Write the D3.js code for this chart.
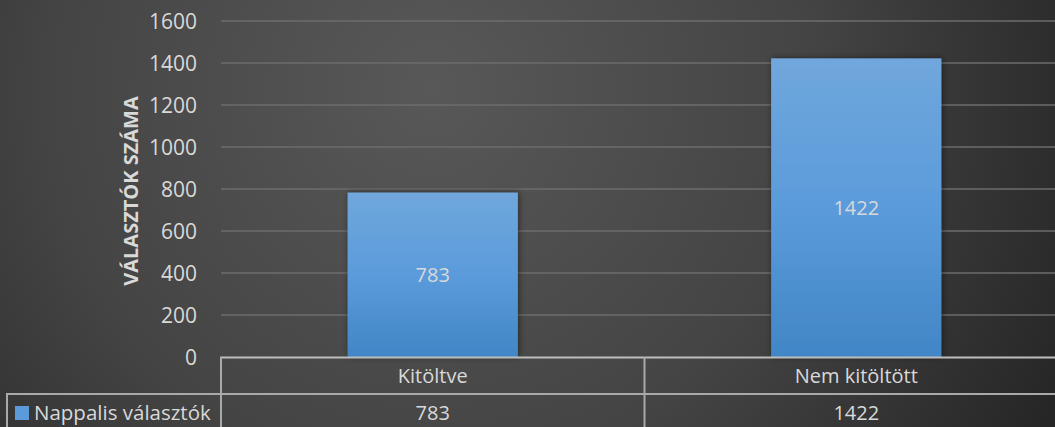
<!DOCTYPE html>
<html><head><meta charset="utf-8">
<script src="https://cdn.jsdelivr.net/npm/d3@7"></script>
<style>body{margin:0;background:#333;}svg{display:block;}</style>
</head><body>
<svg id="c" width="1055" height="427"></svg>
<script>
const categories = ["Kitöltve", "Nem kitöltött"];
const seriesName = "Nappalis választók";
const values = [783, 1422];
const yTicks = [0, 200, 400, 600, 800, 1000, 1200, 1400, 1600];
const yTitle = "VÁLASZTÓK SZÁMA";

const W = 1055, H = 427;
const svg = d3.select("#c");
const defs = svg.append("defs");
const bg = defs.append("radialGradient").attr("id","bg")
  .attr("gradientUnits","userSpaceOnUse").attr("cx",430).attr("cy",90).attr("r",700);
bg.append("stop").attr("offset","0").attr("stop-color","#585858");
bg.append("stop").attr("offset","0.55").attr("stop-color","#444444");
bg.append("stop").attr("offset","1").attr("stop-color","#262626");
const bar = defs.append("linearGradient").attr("id","bar").attr("x1",0).attr("y1",0).attr("x2",0).attr("y2",1);
bar.append("stop").attr("offset","0").attr("stop-color","#70a7dc");
bar.append("stop").attr("offset","0.5").attr("stop-color","#5b9bdb");
bar.append("stop").attr("offset","1").attr("stop-color","#4186c6");
const sh = defs.append("filter").attr("id","sh").attr("x","-20%").attr("y","-20%").attr("width","140%").attr("height","140%");
sh.append("feGaussianBlur").attr("in","SourceAlpha").attr("stdDeviation",3);
sh.append("feOffset").attr("dx",1).attr("dy",0).attr("result","b");
sh.append("feComponentTransfer").append("feFuncA").attr("type","linear").attr("slope",0.5);
const m = sh.append("feMerge"); m.append("feMergeNode"); m.append("feMergeNode").attr("in","SourceGraphic");

svg.append("rect").attr("width",W).attr("height",H).attr("fill","url(#bg)");

const font = "'Open Sans', sans-serif";
const txt = "#d9d9d9";
const y = d3.scaleLinear().domain([0,1600]).range([357,21]);
const x = d3.scaleBand().domain(categories).range([221,1068]).paddingInner(0).paddingOuter(0);
const bw = x.bandwidth()*0.402;

// gridlines
svg.append("g").selectAll("line").data(yTicks.filter(d=>d>0)).join("line")
  .attr("x1",221).attr("x2",W).attr("y1",d=>y(d)).attr("y2",d=>y(d))
  .attr("stroke","#6c6c6c").attr("stroke-width",1.5);

// y axis tick labels
const ya = svg.append("g").attr("transform","translate(197,0)")
  .call(d3.axisLeft(y).tickValues(yTicks).tickSize(0).tickPadding(0).tickFormat(d3.format("d")));
ya.select(".domain").remove();
ya.selectAll("text").attr("fill",txt).attr("font-family",font).attr("font-size",21).attr("dy","0.35em");

svg.append("text").attr("transform","translate(138,191) rotate(-90)")
  .attr("text-anchor","middle").attr("fill",txt).attr("font-family",font)
  .attr("font-weight","bold").attr("font-size",20).text(yTitle);

// bars
svg.append("g").selectAll("rect").data(values).join("rect")
  .attr("x",(d,i)=>x(categories[i])+x.bandwidth()/2-bw/2)
  .attr("width",bw).attr("y",d=>y(d)).attr("height",d=>y(0)-y(d))
  .attr("fill","url(#bar)").attr("filter","url(#sh)");
svg.append("g").selectAll("text").data(values).join("text")
  .attr("x",(d,i)=>x(categories[i])+x.bandwidth()/2)
  .attr("y",d=>(y(d)+y(0))/2).attr("dy","0.35em").attr("text-anchor","middle")
  .attr("fill",txt).attr("font-family",font).attr("font-size",20).text(d=>d);

// data table
const lc = "#a9a9a9";
const g = svg.append("g").attr("stroke",lc).attr("stroke-width",2).attr("fill","none");
g.append("line").attr("x1",220).attr("x2",W).attr("y1",357.5).attr("y2",357.5).attr("stroke","#bdbdbd");
g.append("line").attr("x1",6).attr("x2",W).attr("y1",394).attr("y2",394);
g.append("line").attr("x1",7).attr("x2",7).attr("y1",394).attr("y2",H+2);
g.selectAll(".v").data(categories).join("line")
  .attr("x1",d=>x(d)).attr("x2",d=>x(d)).attr("y1",357).attr("y2",H+2);

svg.append("g").selectAll("text").data(categories).join("text")
  .attr("x",d=>x(d)+x.bandwidth()/2).attr("y",376).attr("dy","0.35em").attr("text-anchor","middle")
  .attr("fill",txt).attr("font-family",font).attr("font-size",20).text(d=>d);
svg.append("g").selectAll("text").data(values).join("text")
  .attr("x",(d,i)=>x(categories[i])+x.bandwidth()/2).attr("y",413).attr("dy","0.35em").attr("text-anchor","middle")
  .attr("fill",txt).attr("font-family",font).attr("font-size",20).text(d=>d);

svg.append("rect").attr("x",15).attr("y",406).attr("width",14).attr("height",14).attr("fill","#5b9bdb");
svg.append("text").attr("x",34).attr("y",413).attr("dy","0.35em")
  .attr("fill",txt).attr("font-family",font).attr("font-size",20.5).text(seriesName);
</script>
</body></html>
